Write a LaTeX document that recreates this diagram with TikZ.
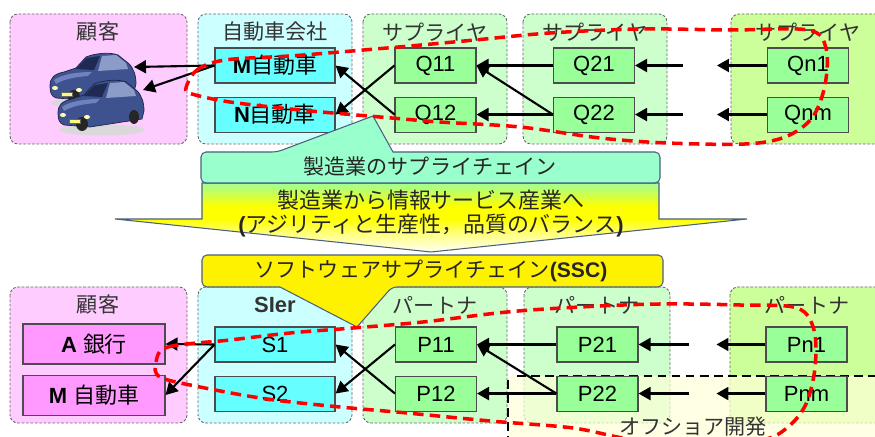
\documentclass[tikz,border=0pt]{standalone}
\usepackage{fontspec}
\setmainfont{Liberation Sans}
\newfontfamily\jp{Noto Sans CJK JP}
\usepackage{tikz}
\usetikzlibrary{arrows.meta, positioning}
\usepackage{xcolor}
\definecolor{bgpink}{HTML}{FFCCFF}
\definecolor{bgcyan}{HTML}{CCFFFF}
\definecolor{bggreen}{HTML}{CCFFCC}
\definecolor{bglime}{HTML}{CCFF99}
\definecolor{boxpink}{HTML}{FF99FF}
\definecolor{boxcyan}{HTML}{66FFFF}
\definecolor{boxgreen}{HTML}{99FF99}
\definecolor{mint}{HTML}{99FFCC}
\definecolor{arrtop}{HTML}{A0FF96}
\definecolor{offyel}{HTML}{FFFFD8}
\definecolor{bannerline}{HTML}{4A6080}
\definecolor{carbody}{HTML}{3F5290}
\definecolor{carline}{HTML}{1C2548}
\definecolor{carglass}{HTML}{1E2A52}
\definecolor{carside}{HTML}{8C9CC8}
\definecolor{carhigh}{HTML}{6F82BE}

% green on top, yellow at the wings, white at the tip
\pgfdeclareverticalshading{shiftshade}{100bp}{color(0bp)=(white); color(25bp)=(white!96!yellow);
  color(37bp)=(yellow!45!white); color(49bp)=(yellow); color(58bp)=(yellow); color(75bp)=(arrtop); color(100bp)=(arrtop)}

\tikzset{
  car/.pic={
    \fill[black!15] (46,53) ellipse (8.6mm and 1.1mm);
    \filldraw[fill=carbody, draw=carline, line width=0.4pt]
      (2,36) .. controls (2,28) and (6,24) .. (16,22) -- (28,18) -- (38,7)
      .. controls (48,3) and (62,2) .. (70,5) -- (80,13)
      .. controls (86,18) and (88,26) .. (88,34) -- (86,42) -- (34,50) -- (8,48)
      .. controls (3,46) and (2,42) .. (2,36) -- cycle;
    \fill[carglass] (28,19) -- (39,8) -- (52,6) -- (46,20) -- cycle;
    \fill[carside] (54,6) -- (68,5) -- (78,13) -- (80,19) -- (50,21) -- cycle;
    \fill[carhigh] (6,30) .. controls (14,24) and (30,22) .. (44,22) -- (40,26)
      .. controls (28,27) and (16,29) .. (8,34) -- cycle;
    \fill[black!85] (26,47) ellipse (1.2mm and 1.4mm);
    \fill[black!85] (78,40) ellipse (1mm and 1.4mm);
    \fill[white!70!yellow] (7,38) ellipse (0.6mm and 0.4mm);
    \fill[white!70!yellow] (31,40) ellipse (0.6mm and 0.4mm);
    \filldraw[fill=yellow!50!white, draw=black!60, line width=0.3pt] (13,42) rectangle (24,46);
  }
}

\begin{document}
\begin{tikzpicture}[
        x=0.2mm, y=-0.2mm,
        panel/.style={draw=black!60, line width=0.5pt, dash pattern=on 1.5pt off 1pt, rounded corners=1.6mm},
        ptitle/.style={font=\jp\fontsize{12}{14}\selectfont, text=black!80},
        item/.style={rectangle, draw=black!70, line width=0.6pt, fill=boxgreen, minimum width=16.2mm, minimum height=7mm, inner sep=0pt, font=\fontsize{12.5}{14}\selectfont},
        flow/.style={-{Triangle[length=2.4mm, width=2.6mm]}, line width=1.2pt},
        redloop/.style={draw=red, line width=2pt, dash pattern=on 6pt off 3.5pt},
        banner/.style={draw=bannerline, line width=0.6pt},
        btext/.style={font=\jp\fontsize{12}{13}\selectfont, text=black!85, align=center}
        ]

        \useasboundingbox (0,0) rectangle (875,437);
        \clip (0,0) rectangle (875,437);
        \fill[white] (0,0) rectangle (875,437);

        % Panels
        \draw[panel, fill=bgpink]  (10,14) rectangle (187,144);
        \draw[panel, fill=bgcyan]  (198,14) rectangle (352,144);
        \draw[panel, fill=bggreen] (363,14) rectangle (507,144);
        \draw[panel, fill=bggreen] (523,14) rectangle (667,144);
        \draw[panel, fill=bglime]  (731,14) rectangle (885,144);
        \draw[panel, fill=bgpink]  (10,287) rectangle (187,423);
        \draw[panel, fill=bgcyan]  (198,287) rectangle (352,423);
        \draw[panel, fill=bggreen] (363,287) rectangle (507,423);
        \draw[panel, fill=bggreen] (524,287) rectangle (670,423);
        \draw[panel, fill=bglime]  (730,287) rectangle (885,423);

        % Offshore area
        \fill[offyel, fill opacity=0.7] (508,376) rectangle (880,445);
        \draw[line width=1.3pt, dash pattern=on 5pt off 3pt] (517,376) -- (880,376);
        \draw[line width=1.3pt, dash pattern=on 5pt off 3pt] (508,380) -- (508,440);
        \node (offshore) [ptitle] at (693,427) {オフショア開発};

        % Panel titles
        \node (tcust)  [ptitle] at (98,32)  {顧客};
        \node (tmaker) [ptitle] at (275,32) {自動車会社};
        \node (tsup1)  [ptitle] at (435,32) {サプライヤ};
        \node (tsup2)  [ptitle] at (595,32) {サプライヤ};
        \node (tsupn)  [ptitle] at (808,32) {サプライヤ};
        \node (tcust2) [ptitle] at (98,305) {顧客};
        \node (tsier)  [ptitle, font=\bfseries\fontsize{12.5}{14}\selectfont] at (275,305) {SIer};
        \node (tpar1)  [ptitle] at (435,305) {パートナ};
        \node (tpar2)  [ptitle] at (597,305) {パートナ};
        \node (tparn)  [ptitle] at (807,305) {パートナ};

        % Cars
        \pic (carback) at (48,50) {car};
        \pic (carfront) at (56,77) {car};
        \coordinate (car1) at (134,67);
        \coordinate (car2) at (143,90);

        % Manufacturing chain
        \node (M)   [item, fill=boxcyan, minimum width=24mm] at (275,65.5) {{\bfseries M}{\jp 自動車}};
        \node (N)   [item, fill=boxcyan, minimum width=24mm, below=2.6mm of M] {{\bfseries N}{\jp 自動車}};
        \node (Q11) [item] at (435.5,65.5) {Q11};
        \node (Q12) [item, below=2.6mm of Q11] {Q12};
        \node (Q21) [item] at (594,65.5) {Q21};
        \node (Q22) [item, below=2.6mm of Q21] {Q22};
        \node (Qn1) [item] at (808,65.5) {Qn1};
        \node (Qnm) [item, below=2.6mm of Qn1] {Qnm};
        \coordinate (qa1) at ([xshift=9.6mm]Q21.east);
        \coordinate (qb1) at ([xshift=-10mm]Qn1.west);
        \coordinate (qa2) at ([xshift=9.6mm]Q22.east);
        \coordinate (qb2) at ([xshift=-10mm]Qnm.west);

        % Software chain
        \node (A)   [item, fill=boxpink, minimum width=28.4mm, minimum height=8mm] at (94,344) {{\bfseries A} {\jp 銀行}};
        \node (M2)  [item, fill=boxpink, minimum width=28.4mm, minimum height=8mm, below=2mm of A] {{\bfseries M} {\jp 自動車}};
        \node (S1)  [item, fill=boxcyan, minimum width=24mm] at (275,344.5) {S1};
        \node (S2)  [item, fill=boxcyan, minimum width=24mm, below=2.6mm of S1] {S2};
        \node (P11) [item] at (436,344.5) {P11};
        \node (P12) [item, below=2.6mm of P11] {P12};
        \node (P21) [item] at (597.5,344.5) {P21};
        \node (P22) [item, below=2.6mm of P21] {P22};
        \node (Pn1) [item] at (806.5,344.5) {Pn1};
        \node (Pnm) [item, below=2.6mm of Pn1] {Pnm};
        \coordinate (pa1) at ([xshift=10mm]P21.east);
        \coordinate (pb1) at ([xshift=-9.8mm]Pn1.west);
        \coordinate (pa2) at ([xshift=10mm]P22.east);
        \coordinate (pb2) at ([xshift=-9.8mm]Pnm.west);

        % Arrows
        \draw[flow] (M.west) -- (car1);
        \draw[flow] (M.west) -- (car2);
        \draw[flow] (Q11.west) -- (N.east);
        \draw[flow] (Q12.west) -- (M.east);
        \draw[flow] (Q21) -- (Q11);
        \draw[flow] (Q22.west) -- (Q11.east);
        \draw[flow] (Q22) -- (Q12);
        \draw[flow] (qa1) -- (Q21);
        \draw[flow] (Qn1) -- (qb1);
        \draw[flow] (qa2) -- (Q22);
        \draw[flow] (Qnm) -- (qb2);

        \draw[flow] (S1.west) -- (A.east);
        \draw[flow] (S1.west) -- (M2.east);
        \draw[flow] (P11.west) -- (S2.east);
        \draw[flow] (P12.west) -- (S1.east);
        \draw[flow] (P21) -- (P11);
        \draw[flow] (P22.west) -- (P11.east);
        \draw[flow] (P22) -- (P12);
        \draw[flow] (pa1) -- (P21);
        \draw[flow] (Pn1) -- (pb1);
        \draw[flow] (pa2) -- (P22);
        \draw[flow] (Pnm) -- (pb2);

        % Banners
        \shadedraw[banner, shading=shiftshade]
          (202,183) -- (659,183) -- (659,219) -- (747,219) -- (431,252) -- (115,219) -- (202,219) -- cycle;
        \draw[banner, fill=mint, rounded corners=1mm]
          (201,183) -- (201,152) -- (277,152) [sharp corners] -- (373,116) -- (393,152) [rounded corners=1mm] -- (660,152) -- (660,183) -- cycle;
        \draw[banner, fill=yellow, rounded corners=1mm]
          (202,287) -- (202,255) -- (663,255) -- (663,287) -- (392,287) [sharp corners] -- (357,327) -- (280,287) [rounded corners=1mm] -- cycle;
        \node (mfgsc) [btext] at (430,167) {製造業のサプライチェイン};
        \node (shift) [btext, font=\jp\fontsize{12.5}{13.2}\selectfont] at (431,213.5)
          {製造業から情報サービス産業へ\\{\rmfamily\bfseries (}アジリティと生産性，品質のバランス{\rmfamily\bfseries )}};
        \node (ssc) [btext] at (431,271) {ソフトウェアサプライチェイン{\rmfamily\bfseries (SSC)}};

        % Scope outlines
        \draw[redloop] plot[smooth cycle, tension=0.55] coordinates {
          (186,88) (197,70) (225,60) (290,56) (340,52) (410,46) (475,40) (550,33)
          (640,29) (730,30) (808,30) (826,48) (825,85) (812,118) (785,137) (745,144)
          (667,143) (600,138) (520,127) (440,122) (380,117) (300,110) (230,102) (192,94)};
        \draw[redloop] plot[smooth cycle, tension=0.55] coordinates {
          (156,362) (168,347) (230,340) (290,333) (353,328) (423,322) (507,312) (580,307)
          (660,304) (740,305) (797,308) (814,330) (815,368) (806,404) (788,427) (762,440)
          (700,443) (630,439) (573,428) (490,421) (407,413) (340,407) (267,399) (200,387) (160,377)};

    \end{tikzpicture}
\end{document}
